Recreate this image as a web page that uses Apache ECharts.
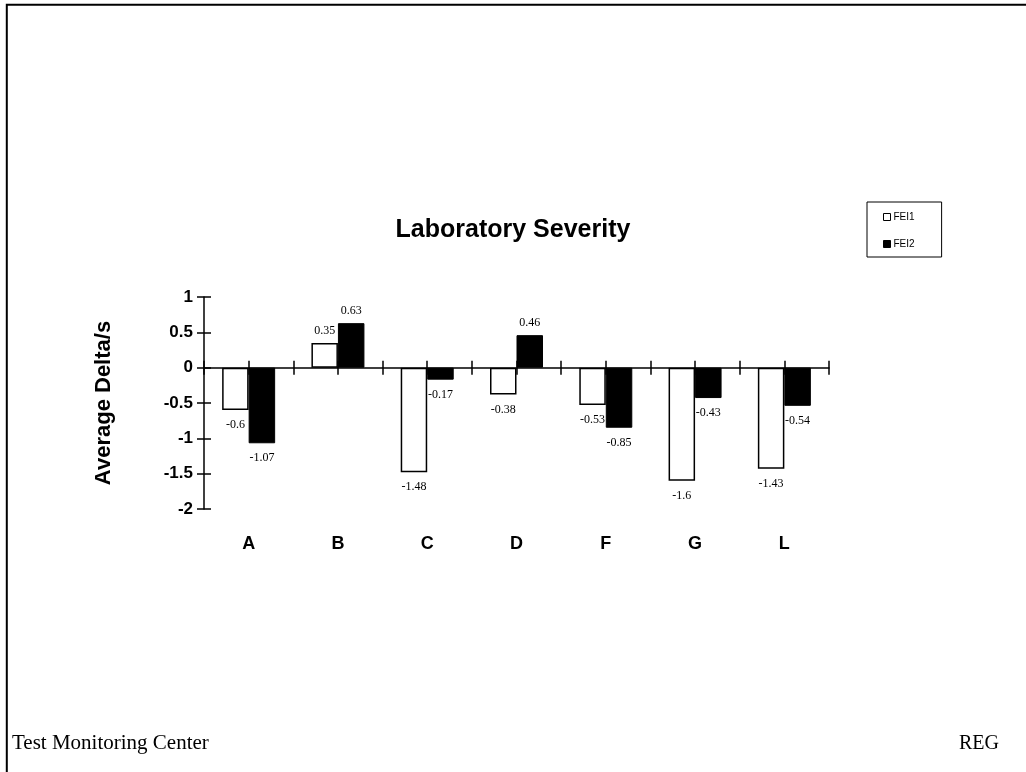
<!DOCTYPE html>
<html>
<head>
<meta charset="utf-8">
<script src="https://cdn.jsdelivr.net/npm/echarts@6/dist/echarts.min.js"></script>
<style>
html,body{margin:0;padding:0;background:#fff;}
#chart{width:1026px;height:772px;}
</style>
</head>
<body>
<div id="chart"></div>
<script>
const categories = ['A', 'B', 'C', 'D', 'F', 'G', 'L'];
const fei1 = [-0.6, 0.35, -1.48, -0.38, -0.53, -1.6, -1.43];
const fei2 = [-1.07, 0.63, -0.17, 0.46, -0.85, -0.43, -0.54];
const seriesNames = ['FEI1', 'FEI2'];
const titleText = 'Laboratory Severity';
const yAxisName = 'Average Delta/s';
const footerLeft = 'Test Monitoring Center';
const footerRight = 'REG';

const chart = echarts.init(document.getElementById('chart'), null, {renderer: 'canvas'});

const sans = '"Liberation Sans", Arial, sans-serif';
const serif = '"Liberation Serif", "Times New Roman", serif';

function withLabelDist(arr) {
  return arr.map(v => ({value: v, label: {distance: v < 0 ? 9 : 6}}));
}

const labelStyle = {
  show: true,
  position: 'outside',
  fontFamily: serif,
  fontSize: 12,
  color: '#000'
};

const grid = {left: 204, right: 197, top: 297, bottom: 263, containLabel: false};

const tickAxis = (inside, center, yIdx) => ({
  type: 'category',
  data: categories,
  position: 'bottom',
  gridIndex: 0,
  boundaryGap: true,
  axisLine: {show: false, onZero: true, onZeroAxisIndex: yIdx},
  axisTick: {show: true, inside: inside, length: 7, alignWithLabel: center, interval: 0, lineStyle: {color: '#000', width: 1.5}},
  axisLabel: {show: false},
  splitLine: {show: false}
});

const hiddenY = () => ({
  type: 'value',
  position: 'left',
  min: -2,
  max: 1,
  interval: 0.5,
  axisLine: {show: false},
  axisTick: {show: false},
  axisLabel: {show: false},
  splitLine: {show: false}
});

const option = {
  backgroundColor: '#fff',
  animation: false,
  title: {
    text: titleText,
    left: 'center',
    top: 213,
    textStyle: {fontFamily: sans, fontWeight: 'bold', fontSize: 25, color: '#000'}
  },
  legend: {
    orient: 'vertical',
    left: 867,
    top: 202,
    borderColor: '#000',
    borderWidth: 1,
    padding: [9, 27, 7, 16],
    itemGap: 15,
    itemWidth: 7,
    itemHeight: 7,
    icon: 'rect',
    itemStyle: {borderWidth: 1, borderColor: '#000'},
    textStyle: {fontFamily: '"Liberation Sans Narrow", "Arial Narrow", ' + sans, fontSize: 10, color: '#000', lineHeight: 12, padding: [0, 0, 0, -2]},
    data: seriesNames
  },
  grid: grid,
  xAxis: [
    {
      type: 'category',
      data: categories,
      position: 'bottom',
      boundaryGap: true,
      axisLine: {show: false, onZero: false},
      axisTick: {show: false},
      axisLabel: {show: true, margin: 26, fontFamily: sans, fontWeight: 'bold', fontSize: 18, color: '#000', interval: 0},
      splitLine: {show: false}
    },
    Object.assign(tickAxis(false, false, 0), {axisLine: {show: true, onZero: true, onZeroAxisIndex: 0, lineStyle: {color: '#000', width: 1.5}}}),
    tickAxis(true, false, 1),
    tickAxis(false, true, 2),
    tickAxis(true, true, 3)
  ],
  yAxis: [
    {
      type: 'value',
      position: 'left',
      min: -2,
      max: 1,
      interval: 0.5,
      name: yAxisName,
      nameLocation: 'middle',
      nameGap: 89,
      nameTextStyle: {fontFamily: sans, fontWeight: 'bold', fontSize: 22, color: '#000'},
      axisLine: {show: true, lineStyle: {color: '#000', width: 1.5}},
      axisTick: {show: true, length: 7, lineStyle: {color: '#000', width: 1.5}},
      axisLabel: {margin: 11, fontFamily: sans, fontWeight: 'bold', fontSize: 17, color: '#000'},
      splitLine: {show: false}
    },
    {
      type: 'value',
      position: 'left',
      min: -2,
      max: 1,
      interval: 0.5,
      axisLine: {show: false},
      axisTick: {show: true, inside: true, length: 7, lineStyle: {color: '#000', width: 1.5}},
      axisLabel: {show: false},
      splitLine: {show: false}
    },
    hiddenY(),
    hiddenY()
  ],
  series: [
    {
      name: seriesNames[0],
      type: 'bar',
      xAxisIndex: 0,
      yAxisIndex: 0,
      data: withLabelDist(fei1),
      barWidth: 26.5,
      barGap: '0%',
      itemStyle: {color: '#fff', borderColor: '#000', borderWidth: 1.5},
      label: labelStyle
    },
    {
      name: seriesNames[1],
      type: 'bar',
      xAxisIndex: 0,
      yAxisIndex: 0,
      data: withLabelDist(fei2),
      barWidth: 26.5,
      barGap: '0%',
      itemStyle: {color: '#000', borderColor: '#000', borderWidth: 1},
      label: labelStyle
    }
  ],
  graphic: [
    {
      type: 'rect',
      shape: {x: 6.8, y: 4.8, width: 1200, height: 1000},
      style: {fill: null, stroke: '#000', lineWidth: 2},
      silent: true
    },
    {
      type: 'text',
      left: 12,
      top: 733,
      style: {text: footerLeft, font: '21px ' + serif, fill: '#000'}
    },
    {
      type: 'text',
      left: 959,
      top: 734,
      style: {text: footerRight, font: '20px ' + serif, fill: '#000'}
    }
  ]
};

chart.setOption(option);
</script>
</body>
</html>
